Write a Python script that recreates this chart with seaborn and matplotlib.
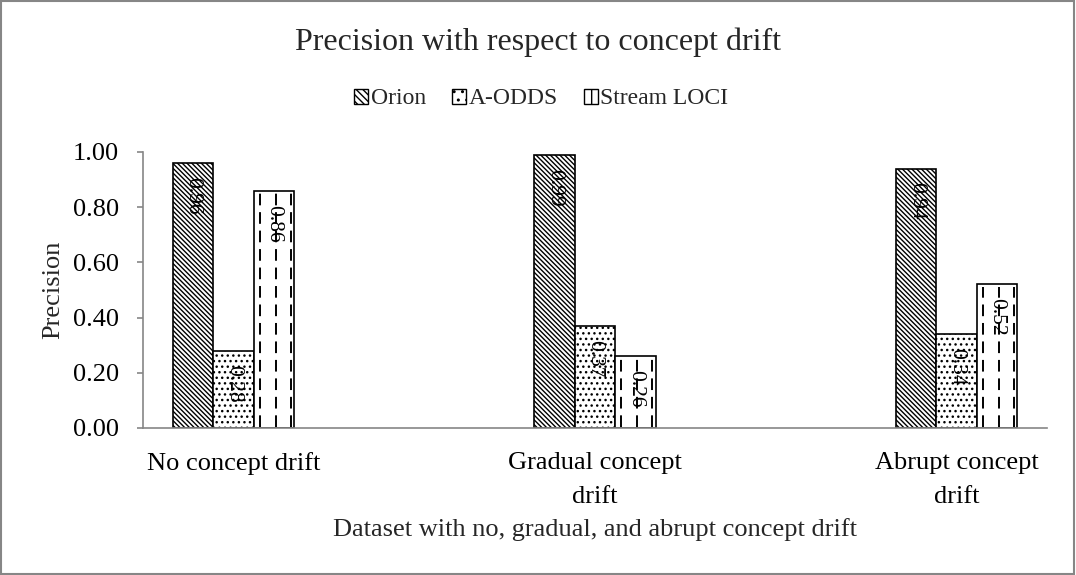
import numpy as np
import pandas as pd
import matplotlib
matplotlib.use("Agg")
import matplotlib.pyplot as plt
import seaborn as sns
from matplotlib.patches import Patch, Rectangle

# Data
categories = ["No concept drift", "Gradual concept drift", "Abrupt concept drift"]
methods = ["Orion", "A-ODDS", "Stream LOCI"]
orion = [0.96, 0.99, 0.94]
aodds = [0.28, 0.37, 0.34]
streamloci = [0.86, 0.26, 0.52]
tick_labels = ["No concept drift", "Gradual concept\ndrift", "Abrupt concept\ndrift"]

# Category slots: gaps between the three datasets
slots = [categories[0], "gap1", categories[1], "gap2", categories[2]]

df = pd.DataFrame({
    "category": np.repeat(categories, 3),
    "method": methods * 3,
    "precision": [v for trio in zip(orion, aodds, streamloci) for v in trio],
})

sns.set_theme(style="white")
plt.rcParams["font.family"] = ["Liberation Serif", "DejaVu Serif"]
plt.rcParams["hatch.linewidth"] = 1.0
plt.rcParams["hatch.color"] = "black"

fig = plt.figure(figsize=(10.76, 5.75), dpi=100)
ax = fig.add_axes([0.1329, 0.2557, 0.8401, 0.48])

sns.barplot(data=df, x="category", y="precision", hue="method",
            order=slots, hue_order=methods, width=0.67,
            color="white", saturation=1, edgecolor="black", linewidth=1.2,
            errorbar=None, legend=False, ax=ax)

hatches = {"Orion": "\\\\\\\\\\\\\\", "A-ODDS": "...", "Stream LOCI": ""}
for cont, m in zip(ax.containers, methods):
    for bar in cont:
        bar.set_facecolor("white")
        bar.set_hatch(hatches[m])

# Dashed vertical fill pattern for Stream LOCI bars
for bar in ax.containers[2]:
    x0, w, h = bar.get_x(), bar.get_width(), bar.get_height()
    for frac in (0.15, 0.55, 0.92):
        ax.plot([x0 + frac * w, x0 + frac * w], [0.005, h - 0.01],
                color="black", lw=1.4, linestyle=(0, (6, 3.5)), zorder=3)

# Value labels, rotated, inside the bar end
for cont in ax.containers:
    for bar in cont:
        h = bar.get_height()
        ax.annotate(f"{h:.2f}", (bar.get_x() + bar.get_width() / 2, h),
                    xytext=(0, -10), textcoords="offset points",
                    rotation=270, ha="center", va="top", fontsize=15.5,
                    color="black", zorder=4)

ax.set_ylim(0, 1.0)
ax.set_xlim(-0.5, 4.5)
ax.set_yticks(np.arange(0, 1.01, 0.2))
ax.set_yticklabels([f"{v:.2f}" for v in np.arange(0, 1.01, 0.2)], fontsize=19)
ax.set_xticks([0, 2, 4])
ax.set_xticklabels(tick_labels, fontsize=19, linespacing=1.75)
ax.set_xticks(np.arange(-0.5, 4.6, 1), minor=True)
ax.tick_params(axis="x", which="major", length=0, pad=17)
ax.tick_params(axis="x", which="minor", length=4.5, width=1.2, color="#868686", direction="out")
ax.tick_params(axis="y", length=4.5, width=1.2, color="#868686", direction="out", pad=13, left=True)
ax.tick_params(axis="both", labelcolor="black")

for s in ["top", "right"]:
    ax.spines[s].set_visible(False)
for s in ["left", "bottom"]:
    ax.spines[s].set_color("#868686")
    ax.spines[s].set_linewidth(1.2)

ax.set_xlabel("Dataset with no, gradual, and abrupt concept drift", fontsize=19, labelpad=7)
ax.set_ylabel("Precision", fontsize=19, labelpad=6)

fig.suptitle("Precision with respect to concept drift", fontsize=23, y=0.952)

handles = [Patch(facecolor="white", edgecolor="black", hatch="\\\\\\\\\\", label="Orion"),
           Patch(facecolor="white", edgecolor="black", hatch="..", label="A-ODDS"),
           Patch(facecolor="white", edgecolor="black", hatch="|", label="Stream LOCI")]
fig.legend(handles=handles, loc="center", bbox_to_anchor=(0.503, 0.828), ncol=3,
           frameon=False, fontsize=17, handlelength=0.6, handleheight=0.6,
           handletextpad=0.1, columnspacing=1.1)

# Outer chart border
fig.add_artist(Rectangle((0.001, 0.002), 0.997, 0.996, transform=fig.transFigure,
                         fill=False, edgecolor="#868686", linewidth=1.5))

fig.savefig("out.png", dpi=100)
